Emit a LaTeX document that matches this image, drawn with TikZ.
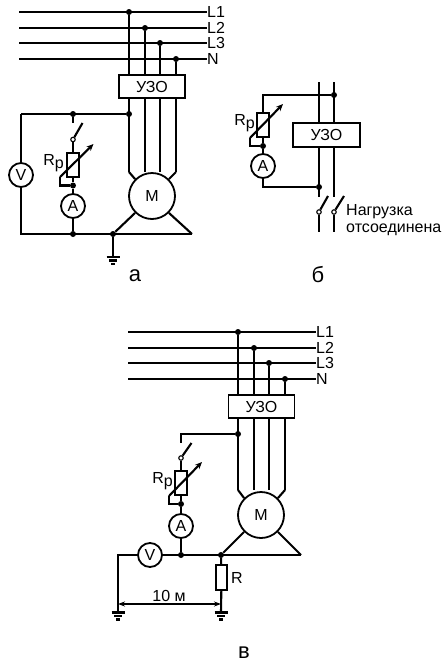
\documentclass[tikz,border=0pt]{standalone}
\usepackage{fontspec}
\setmainfont{Liberation Sans}
\usetikzlibrary{arrows.meta}
\tikzset{
  wire/.style={line width=2.1pt,black},
  jdot/.style={circle,fill=black,inner sep=0pt,minimum size=6pt},
  odot/.style={circle,draw=black,fill=white,line width=1.1pt,inner sep=0pt,minimum size=4.5pt},
  meter/.style={circle,draw=black,line width=1.8pt,fill=white,inner sep=0pt,minimum size=24pt,font=\fontsize{16}{16}\selectfont},
  motor/.style={circle,draw=black,line width=1.8pt,fill=white,inner sep=0pt,minimum size=46pt,font=\fontsize{16}{16}\selectfont},
  rcd/.style={rectangle,draw=black,line width=1.9pt,fill=white,inner sep=0pt,minimum width=66pt,minimum height=23pt,font=\fontsize{16}{16}\selectfont},
  res/.style={rectangle,draw=black,line width=1.9pt,fill=white,inner sep=0pt,minimum width=12pt,minimum height=24pt},
  lab/.style={inner sep=0pt,font=\fontsize{16}{16}\selectfont},
  panel/.style={inner sep=0pt,font=\fontsize{22}{22}\selectfont}
}
% \gnd{name}: earth symbol under a named coordinate
\newcommand{\gnd}[1]{%
  \draw[wire] ([xshift=-6.5pt]#1) -- ([xshift=6.5pt]#1);
  \draw[wire] ([xshift=-4pt,yshift=-3.5pt]#1) -- ([xshift=4pt,yshift=-3.5pt]#1);
  \draw[wire] ([xshift=-2pt,yshift=-7pt]#1) -- ([xshift=2pt,yshift=-7pt]#1);
}
\begin{document}
\begin{tikzpicture}[x=1pt,y=-1pt]
\useasboundingbox (0,0) rectangle (442,662);
\fill[white] (0,0) rectangle (442,662);

% ---------- panel a ----------
\foreach \n/\y/\t in {1/12/L1,2/28/L2,3/43/L3,4/59/N}{
  \coordinate (as\n) at (19,\y);
  \node[lab,anchor=west] (al\n) at (207,\y) {\t};
  \draw[wire] (as\n) -- (al\n.west);
}
\node[jdot] (ad1) at (129,12) {};
\node[jdot] (ad2) at (145,28) {};
\node[jdot] (ad3) at (160,43) {};
\node[jdot] (ad4) at (176,59) {};
\coordinate (ae1) at (129,172);
\coordinate (ae2) at (145,172);
\coordinate (ae3) at (160,172);
\coordinate (ae4) at (176,172);
\foreach \n in {1,2,3,4}{\draw[wire] (ad\n) -- (ae\n);}
\node[rcd] (au) at (152,86.5) {УЗО};
\node[motor] (am) at (152,196) {М};
\draw[wire] (ae1) -- (am.135);
\draw[wire] (ae4) -- (am.45);
\coordinate (at) at (192,234);
\coordinate (atl) at (21,234);
\coordinate (atp) at (21,114);
\node[jdot] (ag) at (113,234) {};
\draw[wire] (am.225) -- (ag);
\draw[wire] (am.315) -- (at);
\draw[wire] (at) -- (atl) -- (atp);
\node[jdot] (at1) at (73,114) {};
\node[jdot] (at2) at (129,114) {};
\draw[wire] (atp) -- (at2);
\node[meter] (av) at (21,175) {V};
\node[odot] (asw) at (73,139.5) {};
\coordinate (ab) at (82.5,123);
\coordinate (asw1) at (73,123);
\draw[wire] (at1) -- (asw1);
\draw[wire] (asw) -- (ab);
\node[res] (ar) at (73,165) {};
\draw[wire] (asw) -- (ar);
\node[jdot] (aj) at (73,185.5) {};
\draw[wire] (ar) -- (aj);
\coordinate (aw0) at (60,177);
\coordinate (aw1) at (93.5,144);
\draw[wire,-{Stealth[length=7pt,width=6pt]}] (aw0) -- (aw1);
\coordinate (aw3) at (60,185.5);
\draw[wire] (aw0) -- (aw3) -- (aj);
\node[meter] (aa) at (73,206) {A};
\node[jdot] (ab2) at (73,234) {};
\draw[wire] (aj) -- (aa) -- (ab2);
\coordinate (age) at (113,257);
\draw[wire] (ag) -- (age);
\gnd{age}
\node[lab,anchor=base east] (arl) at (64,165) {R\raisebox{-3pt}{p}};
\node[panel] (apa) at (135,276) {а};

% ---------- panel b ----------
\coordinate (bt1) at (319,82);
\coordinate (bt2) at (334,82);
\coordinate (be1) at (319,197);
\coordinate (be2) at (334,197);
\draw[wire] (bt1) -- (be1);
\draw[wire] (bt2) -- (be2);
\node[rcd,minimum width=67pt,minimum height=24pt] (bu) at (326.5,135) {УЗО};
\node[jdot] (bd1) at (334,95) {};
\node[jdot] (bd2) at (319,187) {};
\coordinate (bc1) at (263,95);
\node[res] (br) at (263,125) {};
\draw[wire] (bd1) -- (bc1) -- (br);
\node[jdot] (bj) at (263,146) {};
\draw[wire] (br) -- (bj);
\coordinate (bw0) at (250,138);
\coordinate (bw1) at (283,104);
\draw[wire,-{Stealth[length=7pt,width=6pt]}] (bw0) -- (bw1);
\coordinate (bw3) at (250,146);
\draw[wire] (bw0) -- (bw3) -- (bj);
\node[meter] (ba) at (263,166) {A};
\coordinate (bc2) at (263,187);
\draw[wire] (bj) -- (ba) -- (bc2) -- (bd2);
\node[odot] (bs1) at (319,212) {};
\node[odot] (bs2) at (334,212) {};
\coordinate (bb1) at (328,196);
\coordinate (bb2) at (344,196);
\coordinate (bf1) at (319,232);
\coordinate (bf2) at (334,232);
\draw[wire] (bs1) -- (bb1);
\draw[wire] (bs2) -- (bb2);
\draw[wire] (bs1) -- (bf1);
\draw[wire] (bs2) -- (bf2);
\node[lab,anchor=west] (bn1) at (346,212) {Нагрузка};
\node[lab,anchor=west] (bn2) at (346,230) {отсоединена};
\node[lab,anchor=base east] (brl) at (255,125) {R\raisebox{-3pt}{p}};
\node[panel] (bpa) at (318,275) {б};

% ---------- panel c ----------
\foreach \n/\y/\t in {1/332/L1,2/348/L2,3/363/L3,4/379/N}{
  \coordinate (cs\n) at (128,\y);
  \node[lab,anchor=west] (cl\n) at (316,\y) {\t};
  \draw[wire] (cs\n) -- (cl\n.west);
}
\node[jdot] (cd1) at (238,332) {};
\node[jdot] (cd2) at (254,348) {};
\node[jdot] (cd3) at (269,363) {};
\node[jdot] (cd4) at (285,379) {};
\coordinate (ce1) at (238,490);
\coordinate (ce2) at (254,490);
\coordinate (ce3) at (269,490);
\coordinate (ce4) at (285,490);
\foreach \n in {1,2,3,4}{\draw[wire] (cd\n) -- (ce\n);}
\node[rcd] (cu) at (261.5,406.5) {УЗО};
\node[motor] (cm) at (261,515) {М};
\draw[wire] (ce1) -- (cm.135);
\draw[wire] (ce4) -- (cm.45);
\coordinate (ct) at (301,555);
\coordinate (ctl) at (118,555);
\node[jdot] (cg) at (221,555) {};
\draw[wire] (cm.225) -- (cg);
\draw[wire] (cm.315) -- (ct);
\coordinate (cgl) at (118,612.5);
\coordinate (cgr) at (221,612.5);
\draw[wire] (cgl) -- (ctl) -- (ct);
\node[jdot] (cb) at (181,555) {};
\node[meter] (cv) at (150,555) {V};
\node[jdot] (ct2) at (238,434) {};
\coordinate (cc1) at (181,434);
\coordinate (cc2) at (181,443);
\draw[wire] (ct2) -- (cc1) -- (cc2);
\node[odot] (csw) at (181,458) {};
\coordinate (cbl) at (191.5,443);
\draw[wire] (csw) -- (cbl);
\node[res] (cr) at (181,483) {};
\draw[wire] (csw) -- (cr);
\node[jdot] (cj) at (181,504) {};
\draw[wire] (cr) -- (cj);
\coordinate (cw0) at (169,496);
\coordinate (cw1) at (202,462);
\draw[wire,-{Stealth[length=7pt,width=6pt]}] (cw0) -- (cw1);
\coordinate (cw3) at (169,504);
\draw[wire] (cw0) -- (cw3) -- (cj);
\node[meter] (ca) at (181,526) {A};
\draw[wire] (cj) -- (ca) -- (cb);
\node[res,minimum width=11pt,minimum height=25pt] (cR) at (221.5,577.5) {};
\draw[wire] (cg) -- (cR) -- (cgr);
\gnd{cgl}
\gnd{cgr}
\coordinate (cal) at (cgl |- 0,604);
\coordinate (car) at (cgr |- 0,604);
\draw[line width=1.5pt,{Stealth[length=7pt,width=5pt]}-{Stealth[length=7pt,width=5pt]}] (cal) -- (car);
\node[lab] (cdl) at (169,596) {10 м};
\node[lab] (cRl) at (237,578) {R};
\node[lab,anchor=base east] (crl) at (173,483) {R\raisebox{-3pt}{p}};
\node[panel] (cpa) at (244,653) {в};
\end{tikzpicture}
\end{document}
